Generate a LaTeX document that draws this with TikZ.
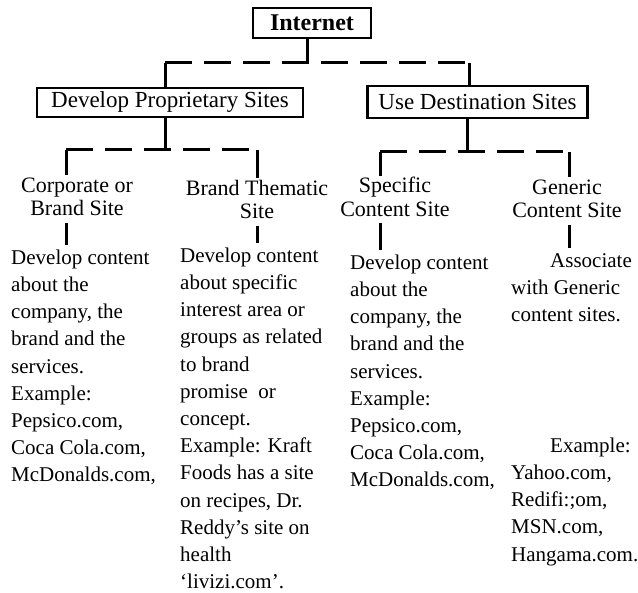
\documentclass[tikz,border=0pt]{standalone}
\usepackage{fontspec}
\setmainfont{Liberation Serif}
\tikzset{
  boxnode/.style={draw, line width=2.5pt, inner sep=0pt, font=\fontsize{23}{27}\selectfont},
  conn/.style={line width=3pt},
  busline/.style={line width=3pt, dash pattern=on 27pt off 12pt},
  lab/.style={anchor=north, inner sep=0pt, align=center, font=\fontsize{22}{23.5}\selectfont},
  desc/.style={anchor=north west, inner sep=0pt, align=left, font=\fontsize{21}{27.2}\selectfont},
}
\begin{document}
\begin{tikzpicture}[x=1pt,y=-1pt]
\useasboundingbox (0,0) rectangle (638,593);
% boxes
\node[boxnode, font=\fontsize{24}{27}\selectfont\bfseries, minimum width=118pt, minimum height=30pt] (internet) at (312,23) {Internet};
\node[boxnode, minimum width=266pt, minimum height=29pt] (dps) at (170,102.5) {Develop Proprietary Sites};
\node[boxnode, minimum width=220pt, minimum height=32pt] (uds) at (477.5,102) {Use Destination Sites};
% bus coordinates
\coordinate (b1c) at (307,63);
\coordinate (b1l) at (165,63);
\coordinate (b1r) at (469,63);
\coordinate (b2c) at (165,150);
\coordinate (b2l) at (66,150);
\coordinate (b2r) at (257,150);
\coordinate (b3c) at (467,152);
\coordinate (b3l) at (380,152);
\coordinate (b3r) at (569,152);
% labels
\node[lab] (corp) at (77,175.5) {\strut Corporate or\\\strut Brand Site};
\node[lab] (brandt) at (257,178.5) {\strut Brand Thematic\\\strut Site};
\node[lab] (spec) at (395,176) {\strut Specific\\\strut Content Site};
\node[lab] (gen) at (567,177.5) {\strut Generic\\\strut Content Site};
% descriptions
\node[desc] (desc1) at (11,245) {\strut Develop content\\\strut about the\\\strut company, the\\\strut brand and the\\\strut services.\\\strut Example:\\\strut Pepsico.com,\\\strut Coca Cola.com,\\\strut McDonalds.com,};
\node[desc] (desc2) at (180,243) {\strut Develop content\\\strut about specific\\\strut interest area or\\\strut groups as related\\\strut to brand\\\strut promise\ \ or\\\strut concept.\\\strut Example: Kraft\\\strut Foods has a site\\\strut on recipes, Dr.\\\strut Reddy’s site on\\\strut health\\\strut ‘livizi.com’.};
\node[desc] (desc3) at (350,250) {\strut Develop content\\\strut about the\\\strut company, the\\\strut brand and the\\\strut services.\\\strut Example:\\\strut Pepsico.com,\\\strut Coca Cola.com,\\\strut McDonalds.com,};
\node[desc] (desc4) at (511,248) {\strut\hspace*{39pt}Associate\\\strut with Generic\\\strut content sites.};
\node[desc] (desc4b) at (511,433) {\strut\hspace*{39pt}Example:\\\strut Yahoo.com,\\\strut Redifi:;om,\\\strut MSN.com,\\\strut Hangama.com.};
% level 1 connectors
\draw[conn] (b1c |- internet.south) -- (b1c);
\draw[busline] (b1l) -- (b1r);
\draw[conn] (b1l) -- (b1l |- dps.north);
\draw[conn] (b1r) -- (b1r |- uds.north);
% level 2 connectors
\draw[conn] (b2c |- dps.south) -- (b2c);
\draw[busline] (b2l) -- (b2r);
\draw[conn] (b2l) -- (b2l |- corp.north);
\draw[conn] (b2r) -- (b2r |- brandt.north);
\draw[conn] (b3c |- uds.south) -- (b3c);
\draw[busline] (b3l) -- (b3r);
\draw[conn] (b3l) -- (b3l |- spec.north);
\draw[conn] (b3r) -- (b3r |- gen.north);
% label to description connectors
\draw[conn] (b2l |- corp.south) -- (b2l |- desc1.north);
\draw[conn] (b2r |- brandt.south) -- (b2r |- desc2.north);
\draw[conn] (b3l |- spec.south) -- (b3l |- desc3.north);
\draw[conn] (b3r |- gen.south) -- (b3r |- desc4.north);
\end{tikzpicture}
\end{document}
